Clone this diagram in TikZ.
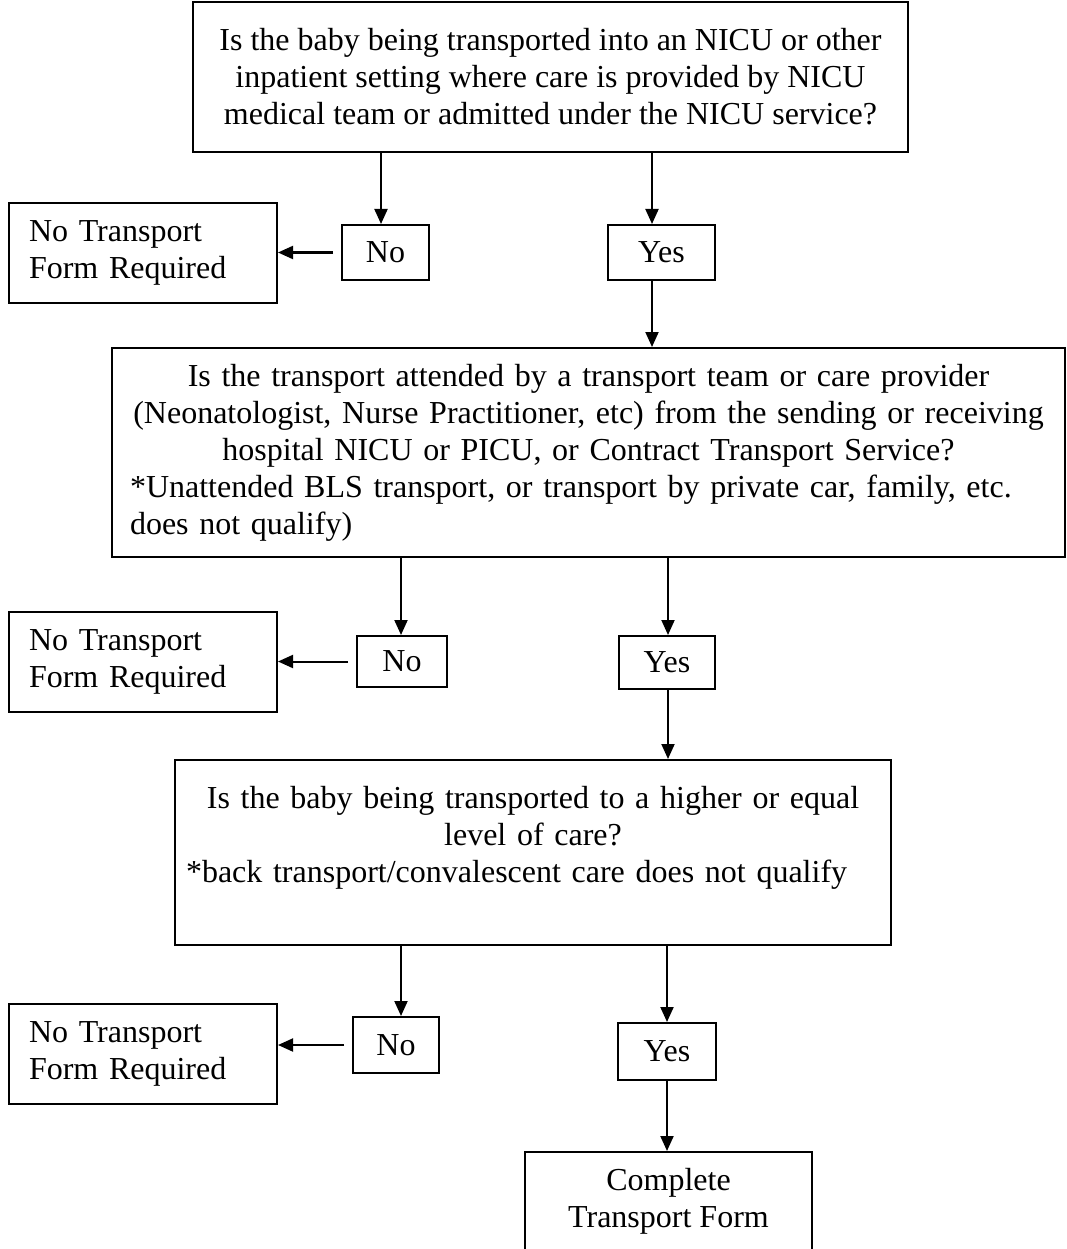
\documentclass[tikz,border=0pt]{standalone}
\usepackage{fontspec}
\setmainfont{Liberation Serif}
\usetikzlibrary{arrows.meta,calc}
\begin{document}
\begin{tikzpicture}[x=1pt,y=-1pt,
  box/.style={draw, line width=2pt, inner sep=0pt, font=\fontsize{32}{37}\selectfont},
  ans/.style={box, minimum height=55pt},
  ntf/.style={box, text width=228pt, inner xsep=20pt, align=left, minimum height=100pt},
  arr/.style={line width=2pt, -{Triangle[length=15pt,width=13pt]}},
]
\path[use as bounding box, clip] (0,0) rectangle (1066,1249);

% question 1
\node[box, minimum width=715pt, minimum height=150pt, align=center] (q1) at (550.5,77)
  {Is the baby being transported into an NICU or other\\
   inpatient setting where care is provided by NICU\\
   medical team or admitted under the NICU service?};
\node[ans, minimum width=87pt] (no1) at (385.5,252.5) {No};
\node[ans, minimum width=107pt] (yes1) at (661.5,252.5) {Yes};
\node[ntf] (ntf1) at (143,253) {No Transport\\Form Required};

% question 2
\node[box, text width=917pt, inner xsep=18pt, align=left, minimum height=209pt] (q2) at (588.5,452.5)
  {\makebox[917pt]{Is the transport attended by a transport team or care provider}\\
   \makebox[917pt]{(Neonatologist, Nurse Practitioner, etc) from the sending or receiving}\\
   \makebox[917pt]{hospital NICU or PICU, or Contract Transport Service?}\\
   {*}Unattended BLS transport, or transport by private car, family, etc.\\
   does not qualify)};
\node[ans, minimum width=90pt, minimum height=51pt] (no2) at (402,661.5) {No};
\node[ans, minimum width=96pt, minimum height=53pt] (yes2) at (667,662.5) {Yes};
\node[ntf] (ntf2) at (143,662) {No Transport\\Form Required};

% question 3
\node[box, text width=694pt, inner xsep=11pt, align=left, minimum height=185pt] (q3) at (533,852.5)
  {\makebox[694pt]{Is the baby being transported to a higher or equal}\\
   \makebox[694pt]{level of care?}\\
   {*}back transport/convalescent care does not qualify\\
   \mbox{}};
\node[ans, minimum width=86pt, minimum height=56pt] (no3) at (396,1045) {No};
\node[ans, minimum width=98pt, minimum height=57pt] (yes3) at (667,1051.5) {Yes};
\node[ntf] (ntf3) at (143,1054) {No Transport\\Form Required};

% result
\node[box, minimum width=287pt, minimum height=98pt, align=center] (done) at (668.5,1201)
  {Complete\\Transport Form};

% connectors
\draw[arr] ($(q1.south -| no1.north)+(-4.5,0)$) -- ($(no1.north)+(-4.5,0)$);
\draw[arr] ($(q1.south -| yes1.north)+(-9.5,0)$) -- ($(yes1.north)+(-9.5,0)$);
\draw[arr] ([xshift=-8pt]no1.west) -- (no1.west -| ntf1.east);
\draw[arr] ($(yes1.south)+(-9.5,0)$) -- ($(q2.north -| yes1.south)+(-9.5,0)$);

\draw[arr] ($(q2.south -| no2.north)+(-1,0)$) -- ($(no2.north)+(-1,0)$);
\draw[arr] ($(q2.south -| yes2.north)+(1,0)$) -- ($(yes2.north)+(1,0)$);
\draw[arr] ([xshift=-8pt]no2.west) -- (no2.west -| ntf2.east);
\draw[arr] ($(yes2.south)+(1,0)$) -- ($(q3.north -| yes2.south)+(1,0)$);

\draw[arr] ($(q3.south -| no3.north)+(5,0)$) -- ($(no3.north)+(5,0)$);
\draw[arr] (q3.south -| yes3.north) -- (yes3.north);
\draw[arr] ([xshift=-8pt]no3.west) -- (no3.west -| ntf3.east);
\draw[arr] (yes3.south) -- (yes3.south |- done.north);
\end{tikzpicture}
\end{document}
